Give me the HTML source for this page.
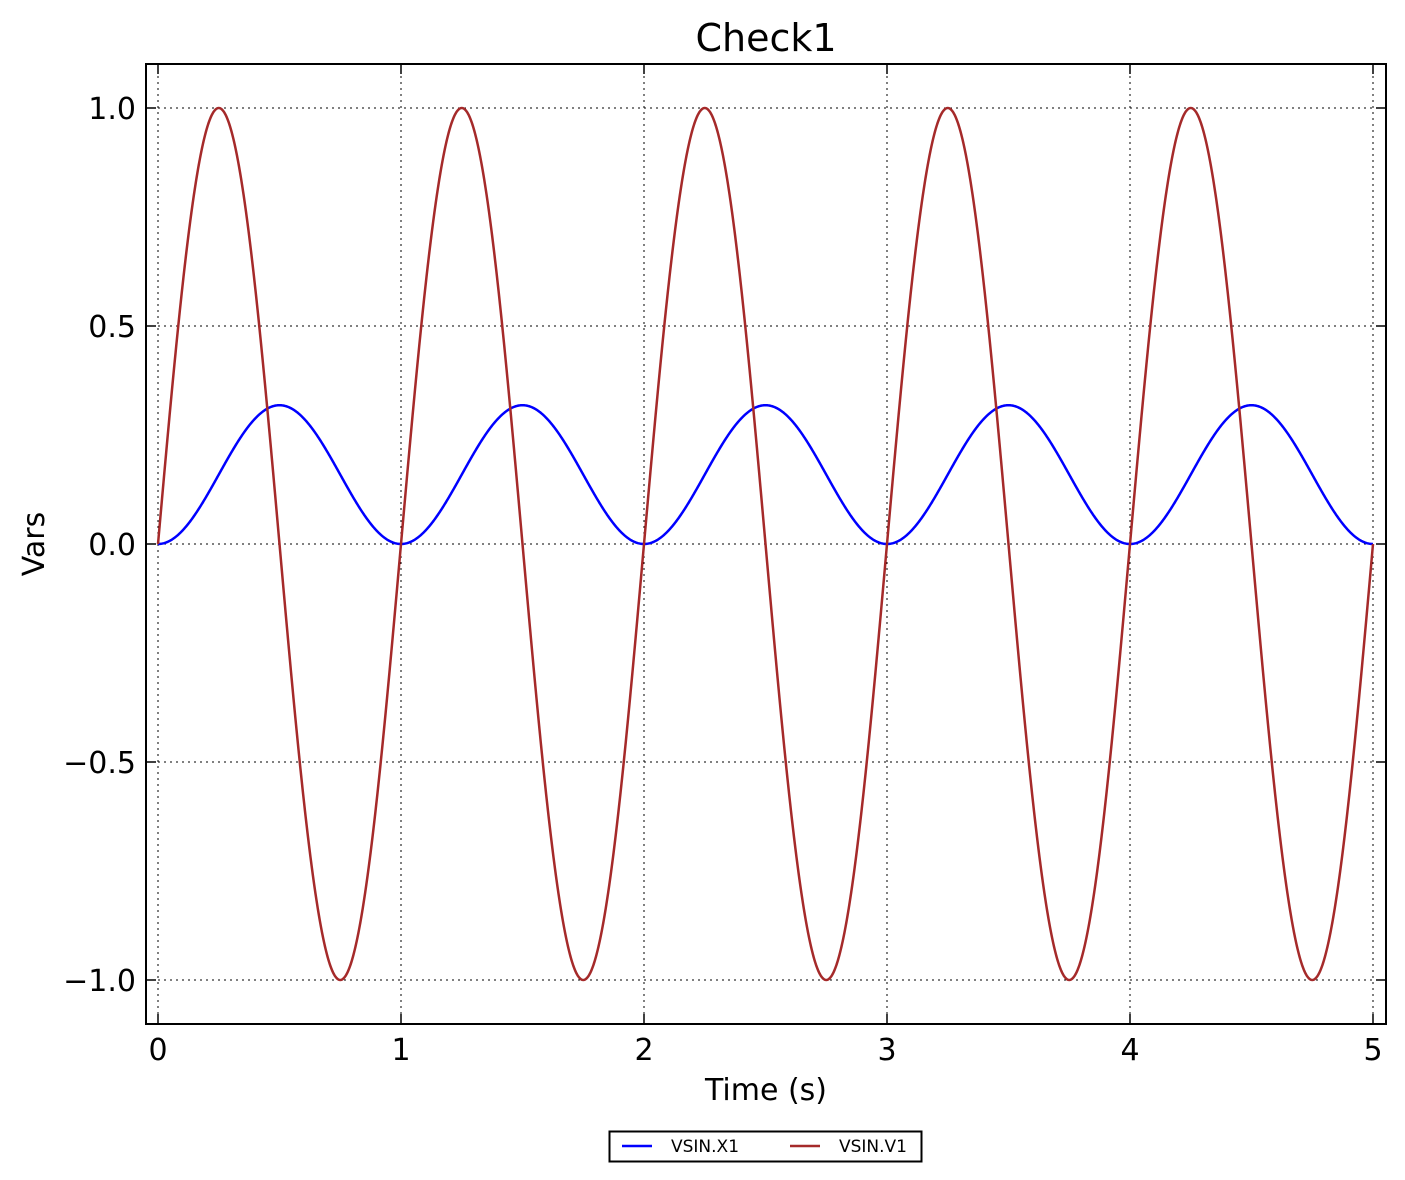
<!DOCTYPE html>
<html><head><meta charset="utf-8"><style>
html,body{margin:0;padding:0;background:#fff;}
svg{display:block;font-family:"DejaVu Sans","Liberation Sans",sans-serif;}
</style></head><body>
<svg id="s" width="1405" height="1180" viewBox="0 0 1405 1180" xmlns="http://www.w3.org/2000/svg">
<rect width="1405" height="1180" fill="#fff"/>
<g id="grid" stroke="#000" stroke-width="1" stroke-dasharray="2,4"></g>
<g id="ticks" stroke="#000" stroke-width="1.5"></g>
<path id="blue" fill="none" stroke="#0000ff" stroke-width="2.5"/>
<path id="red" fill="none" stroke="#a52a2a" stroke-width="2.5"/>
<rect x="146" y="64" width="1240" height="960" fill="none" stroke="#000" stroke-width="2"/>
<g font-size="30" fill="#000" text-anchor="end">
<text x="136" y="119">1.0</text>
<text x="136" y="337">0.5</text>
<text x="136" y="555">0.0</text>
<text x="136" y="773">−0.5</text>
<text x="136" y="991">−1.0</text>
</g>
<g font-size="30" fill="#000" text-anchor="middle">
<text x="158" y="1060">0</text>
<text x="401" y="1060">1</text>
<text x="644" y="1060">2</text>
<text x="887" y="1060">3</text>
<text x="1130" y="1060">4</text>
<text x="1373" y="1060">5</text>
<text x="766" y="1100">Time (s)</text>
<text x="766" y="51" font-size="38">Check1</text>
<text transform="translate(44,544) rotate(-90)" font-size="30">Vars</text>
</g>
<rect x="609.5" y="1131.5" width="312" height="30" fill="#fff" stroke="#000" stroke-width="2"/>
<line x1="622" y1="1146" x2="652" y2="1146" stroke="#0000ff" stroke-width="2.5"/>
<text x="671" y="1152" font-size="17">VSIN.X1</text>
<line x1="790" y1="1146" x2="820" y2="1146" stroke="#a52a2a" stroke-width="2.5"/>
<text x="839" y="1152" font-size="17">VSIN.V1</text>
</svg>
<script>
var X=function(t){return 158+243*t;},Y=function(v){return 544-436*v;};
var g=document.getElementById('grid'),tk=document.getElementById('ticks'),h='',k='';
for(var i=0;i<=5;i++){var x=X(i);h+='<line x1="'+x+'" y1="64" x2="'+x+'" y2="1024"/>';
k+='<line x1="'+x+'" y1="1024" x2="'+x+'" y2="1014"/><line x1="'+x+'" y1="64" x2="'+x+'" y2="74"/>';}
[1,0.5,0,-0.5,-1].forEach(function(v){var y=Y(v);h+='<line x1="146" y1="'+y+'" x2="1386" y2="'+y+'"/>';
k+='<line x1="146" y1="'+y+'" x2="156" y2="'+y+'"/><line x1="1386" y1="'+y+'" x2="1376" y2="'+y+'"/>';});
g.innerHTML=h;tk.innerHTML=k;
var b='',r='';
for(var j=0;j<=2000;j++){var t=5*j/2000;
b+=(j?'L':'M')+X(t).toFixed(2)+' '+Y((1-Math.cos(2*Math.PI*t))/(2*Math.PI)).toFixed(2);
r+=(j?'L':'M')+X(t).toFixed(2)+' '+Y(Math.sin(2*Math.PI*t)).toFixed(2);}
document.getElementById('blue').setAttribute('d',b);
document.getElementById('red').setAttribute('d',r);
</script>
</body></html>
